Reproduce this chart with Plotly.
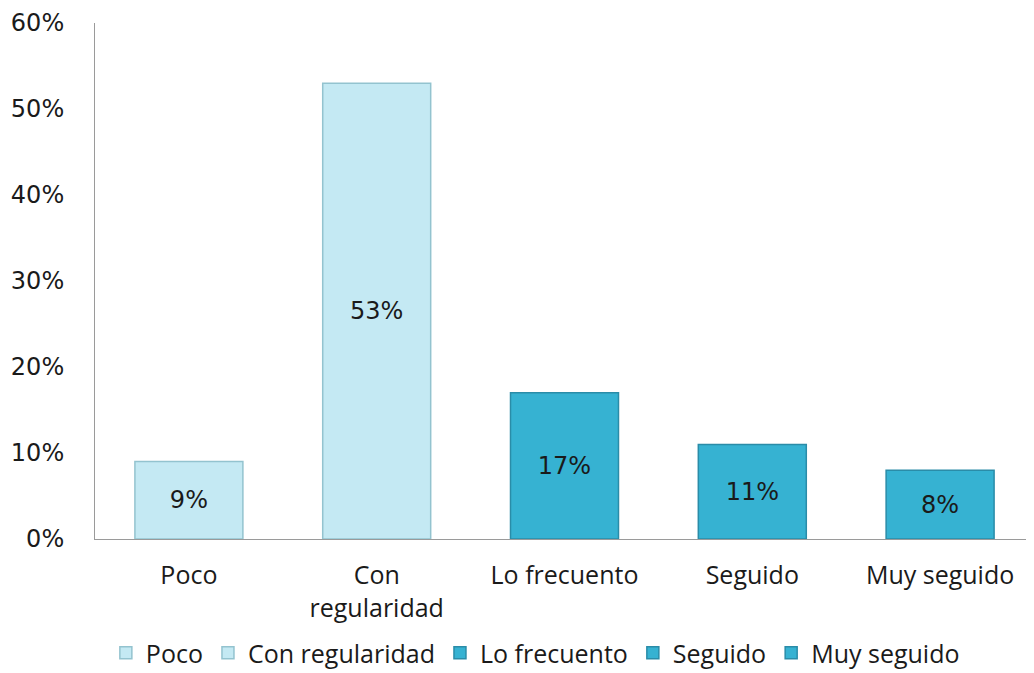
import plotly.graph_objects as go

categories = ['Poco', 'Con regularidad', 'Lo frecuento', 'Seguido', 'Muy seguido']
tick_labels = ['Poco', 'Con<br>regularidad', 'Lo frecuento', 'Seguido', 'Muy seguido']
values = [9, 53, 17, 11, 8]
fill_colors = ['#C4E9F3', '#C4E9F3', '#36B2D2', '#36B2D2', '#36B2D2']
line_colors = ['#93C3CF', '#93C3CF', '#2A8CA8', '#2A8CA8', '#2A8CA8']

fig = go.Figure()
for cat, val, fc, lc in zip(categories, values, fill_colors, line_colors):
    fig.add_trace(go.Bar(
        x=[cat], y=[val], name=cat,
        width=0.575,
        marker=dict(color=fc, line=dict(color=lc, width=1.5)),
        text=[f'{val}%'], textposition='inside', insidetextanchor='middle',
        textfont=dict(size=24, color='#1a1a1a', family='DejaVu Sans'),
        textangle=0,
    ))

# page body has an 8px margin, so the figure is sized/offset to fit the window
fig.update_layout(
    width=1026, height=665,
    barmode='overlay',
    plot_bgcolor='white', paper_bgcolor='white',
    margin=dict(l=87, r=0, t=15, b=134),
    font=dict(family='Open Sans', size=25, color='#1a1a1a'),
    legend=dict(orientation='h', xref='container', x=0.514, xanchor='center',
                yref='container', y=0.03, yanchor='middle',
                font=dict(size=25), itemwidth=30, traceorder='normal'),
    uniformtext=dict(mode=False),
)
fig.update_xaxes(tickvals=categories, ticktext=tick_labels, showline=True,
                 linecolor='#9a9a9a', linewidth=1, ticks='', showgrid=False,
                 ticklabelstandoff=14, automargin=False)
fig.update_yaxes(range=[0, 60], dtick=10, ticksuffix='%', showline=True,
                 linecolor='#9a9a9a', linewidth=1, showgrid=False, zeroline=False,
                 ticks='', ticklabelstandoff=25, automargin=False,
                 ticklabeloverflow='allow',
                 tickfont=dict(size=24, family='DejaVu Sans'))

fig.write_html('out.html')
